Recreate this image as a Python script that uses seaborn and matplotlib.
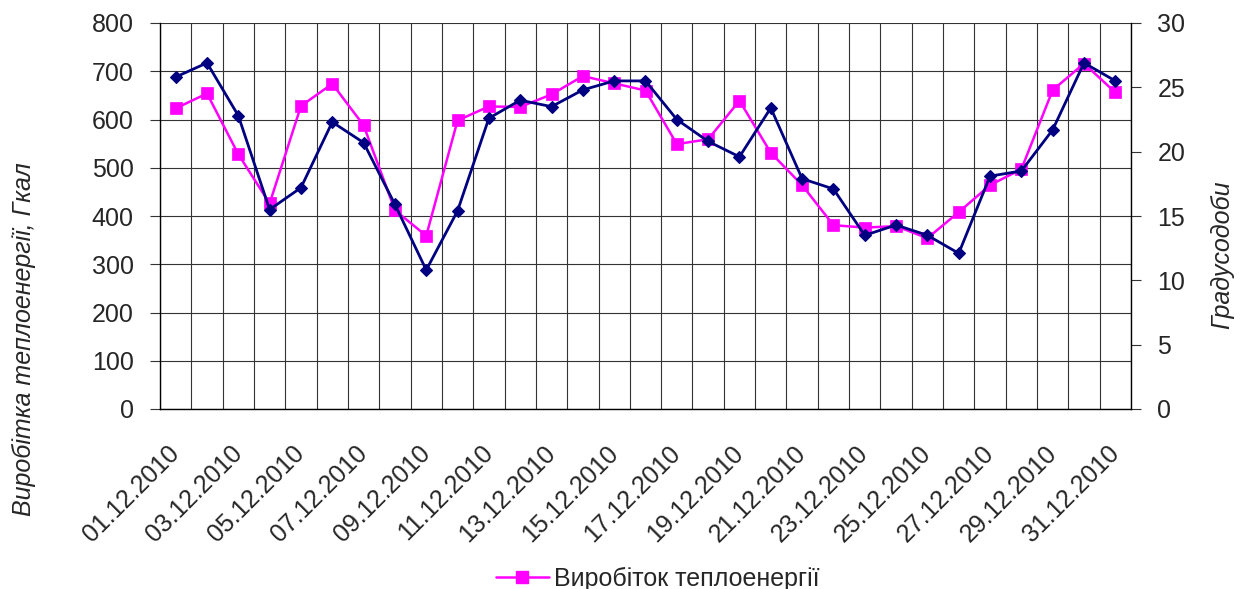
import matplotlib
matplotlib.use("Agg")
import matplotlib.pyplot as plt
from matplotlib.lines import Line2D
import numpy as np
import pandas as pd
import seaborn as sns

# Daily data for December 2010
dates = [f"{d:02d}.12.2010" for d in range(1, 32)]
heat_gcal = [623, 654, 528, 426, 628, 674, 588, 412, 359, 598,
             627, 626, 652, 690, 675, 660, 549, 559, 639, 531,
             464, 381, 376, 379, 354, 408, 464, 497, 661, 716, 656]
degree_days = [25.8, 26.9, 22.8, 15.5, 17.2, 22.3, 20.7, 15.9, 10.8, 15.4,
               22.6, 24.0, 23.5, 24.8, 25.5, 25.5, 22.5, 20.8, 19.6, 23.4,
               17.9, 17.1, 13.5, 14.3, 13.5, 12.1, 18.1, 18.5, 21.7, 26.9, 25.5]

heat_label = "Виробіток теплоенергії"
dd_label = "Градусодоби"

sns.set_style("white")
plt.rcParams["font.family"] = ["Liberation Sans", "DejaVu Sans"]
plt.rcParams["axes.unicode_minus"] = False

df = pd.DataFrame({"day": np.arange(len(dates)), "date": dates,
                   "heat": heat_gcal, "dd": degree_days})

MAGENTA = "#FF00FF"
NAVY = "#000080"
GRID = "#333333"
FS = 18

fig = plt.figure(figsize=(12.41, 5.89), dpi=100)
ax = fig.add_axes([160 / 1241, 1 - 409 / 589, (1131 - 160) / 1241, (409 - 23) / 589])
ax2 = ax.twinx()

sns.lineplot(data=df, x="day", y="heat", ax=ax, color=MAGENTA, lw=1.8,
             marker="s", markersize=9, markeredgecolor=MAGENTA, markeredgewidth=0.5)
sns.lineplot(data=df, x="day", y="dd", ax=ax2, color=NAVY, lw=2.0,
             marker="D", markersize=6.5, markeredgecolor=NAVY, markeredgewidth=0.8)

n = len(dates)
ax.set_xlim(-0.5, n - 0.5)
ax.set_ylim(0, 800)
ax2.set_ylim(0, 30)

# category boundaries carry the tick marks and vertical grid
ax.set_xticks(np.arange(-0.5, n, 1.0))
ax.set_xticklabels([])
ax.set_xticks(np.arange(0, n, 2), labels=dates[::2], minor=True)
ax.tick_params(axis="x", which="major", direction="out", length=7, width=0.8,
               color=GRID)
ax.tick_params(axis="x", which="minor", length=0, pad=29, labelsize=FS)
for lbl in ax.get_xticklabels(minor=True):
    lbl.set_rotation(45)
    lbl.set_ha("right")
    lbl.set_va("center")
    lbl.set_rotation_mode("anchor")

ax.set_yticks(np.arange(0, 801, 100))
ax2.set_yticks(np.arange(0, 31, 5))
ax.tick_params(axis="y", direction="out", length=7, width=0.8, pad=12,
               labelsize=FS, color=GRID)
ax2.tick_params(axis="y", direction="out", length=7, width=0.8, pad=12,
                labelsize=FS, color=GRID)

ax.grid(True, which="major", axis="both", color=GRID, lw=0.8)
ax2.grid(False)
ax.set_axisbelow(True)

ax.set_xlabel("")
ax.set_ylabel("")
ax2.set_ylabel("")

for a in (ax, ax2):
    a.spines["top"].set_visible(False)
    for s in ("left", "right", "bottom"):
        a.spines[s].set_color("black")
        a.spines[s].set_linewidth(1.0)
ax.spines["right"].set_visible(False)
ax2.spines["left"].set_visible(False)
ax2.spines["bottom"].set_visible(False)

fig.text(24 / 1241, 1 - 339 / 589, "Виробітка теплоенергії, Гкал", rotation=90,
         style="italic", fontsize=FS, ha="center", va="center")
fig.text(1222 / 1241, 1 - 255 / 589, dd_label, rotation=90,
         style="italic", fontsize=FS, ha="center", va="center")

handle = Line2D([], [], color=MAGENTA, lw=1.8, marker="s", markersize=9)
fig.legend([handle], [heat_label], loc="center", bbox_to_anchor=(0.53, 0.017),
           frameon=False, fontsize=FS, handlelength=2.1, handletextpad=0.2,
           borderpad=0, borderaxespad=0)

fig.savefig("out.png", dpi=100)
